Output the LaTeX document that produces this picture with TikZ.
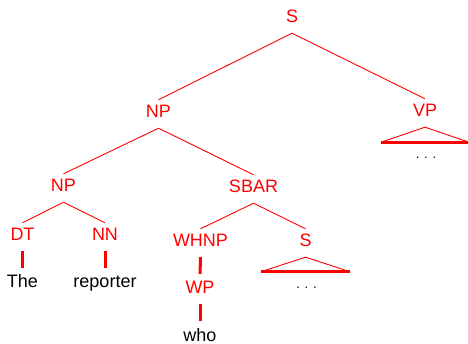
\documentclass[tikz,border=0pt]{standalone}
\usepackage{fontspec}
\setmainfont{Liberation Sans}
\definecolor{tagred}{RGB}{255,0,0}
\tikzset{
  tag/.style={text=tagred, inner sep=0pt, anchor=base, text height=18pt, text depth=10pt, font=\fontsize{18}{20}\selectfont},
  word/.style={text=black, inner sep=0pt, anchor=base, text height=18pt, text depth=10pt, font=\fontsize{18}{20}\selectfont},
  dotsnode/.style={text=black, inner sep=0pt, anchor=base, font=\fontsize{13}{15}\selectfont},
  edge/.style={draw=tagred, line width=0.9pt},
  unary/.style={draw=tagred, line width=3pt, shorten >=2pt},
  tribase/.style={draw=tagred, line width=3pt},
}
\begin{document}
\begin{tikzpicture}[x=1pt,y=-1pt]
\useasboundingbox (0,0) rectangle (468,344);
% tags
\node[tag] (S) at (292,23) {S};
\node[tag] (NP1) at (158.5,118) {NP};
\node[tag] (VP) at (425,117) {VP};
\node[tag] (NP2) at (63.5,192) {NP};
\node[tag] (SBAR) at (253.5,193) {SBAR};
\node[tag] (DT) at (22.5,241) {DT};
\node[tag] (NN) at (105,241) {NN};
\node[tag] (WHNP) at (200.5,247) {WHNP};
\node[tag] (S2) at (305.5,247) {S};
\node[tag] (WP) at (200,294) {WP};
% words
\node[word] (the) at (22.5,288) {The};
\node[word] (rep) at (105,288) {reporter};
\node[word, text depth=0pt] (who) at (200,341) {who};
% edges
\draw[edge] (S.south) -- (NP1.north);
\draw[edge] (S.south) -- (VP.north);
\draw[edge] (NP1.south) -- (NP2.north);
\draw[edge] (NP1.south) -- (SBAR.north);
\draw[edge] (NP2.south) -- (DT.north);
\draw[edge] (NP2.south) -- (NN.north);
\draw[edge] (SBAR.south) -- (WHNP.north);
\draw[edge] (SBAR.south) -- (S2.north);
\draw[unary] (DT.south) -- (the.north);
\draw[unary] (NN.south) -- (rep.north);
\draw[unary] (WHNP.south) -- (WP.north);
\draw[unary] (WP.south) -- (who.north);
% triangles
\coordinate (vpl) at ([xshift=-44pt,yshift=-15pt]VP.south);
\coordinate (vpr) at ([xshift=44pt,yshift=-15pt]VP.south);
\draw[edge] (vpl) -- (VP.south) -- (vpr);
\draw[tribase] (vpl) -- (vpr);
\coordinate (sl) at ([xshift=-44.5pt,yshift=-14.5pt]S2.south);
\coordinate (sr) at ([xshift=44.5pt,yshift=-14.5pt]S2.south);
\draw[edge] (sl) -- (S2.south) -- (sr);
\draw[tribase] (sl) -- (sr);
\node[dotsnode] (vpdots) at (426,158.5) {. . .};
\node[dotsnode] (sdots) at (306.5,288.5) {. . .};
\end{tikzpicture}
\end{document}
